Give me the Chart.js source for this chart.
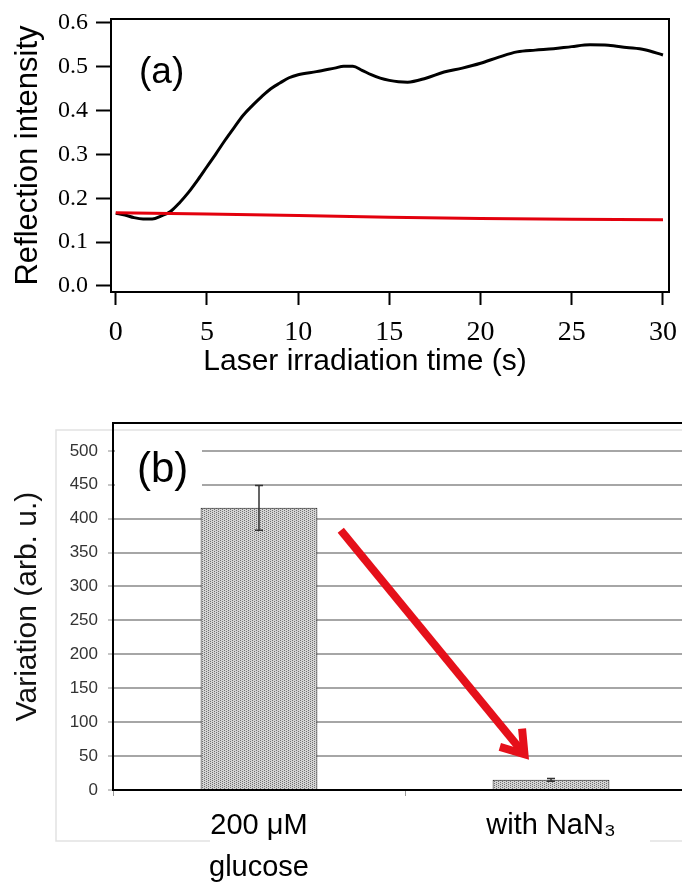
<!DOCTYPE html>
<html>
<head>
<meta charset="utf-8">
<title>Reflection intensity and variation</title>
<script src="https://cdn.jsdelivr.net/npm/chart.js@4/dist/chart.umd.min.js"></script>
<style>
  html, body { margin: 0; padding: 0; background: #fff; overflow: hidden; }
  body { width: 682px; height: 888px; position: relative; }
  #panel-a { position: absolute; left: 0; top: 0; width: 682px; height: 390px; }
  #panel-b { position: absolute; left: 0; top: 400px; width: 700px; height: 488px; }
</style>
</head>
<body>
<div id="panel-a"><canvas id="reflectionChart"></canvas></div>
<div id="panel-b"><canvas id="variationChart"></canvas></div>
<script>
// (a) reflection intensity during laser irradiation
const timeS = [0, 0.5, 1, 1.5, 2, 2.5, 3, 3.5, 4, 4.5, 5, 5.5, 6, 6.5, 7, 7.5, 8, 8.5, 9, 9.5,
  10, 11, 12, 12.5, 13, 13.5, 14, 14.5, 15, 15.5, 16, 17, 18, 19, 20, 21, 22, 23, 24, 25, 26, 27, 28, 29, 30];
const reflGlucose = [0.166, 0.162, 0.156, 0.153, 0.153, 0.160, 0.170, 0.190, 0.214, 0.242, 0.272, 0.302, 0.333, 0.362, 0.390, 0.412, 0.432, 0.450, 0.463, 0.475,
  0.482, 0.489, 0.497, 0.501, 0.501, 0.492, 0.482, 0.474, 0.469, 0.466, 0.465, 0.474, 0.488, 0.497, 0.508, 0.522, 0.534, 0.538, 0.541, 0.546, 0.550, 0.549, 0.544, 0.539, 0.527];
const timeNaN3 = [0, 5, 10, 15, 20, 25, 30];
const reflNaN3 = [0.167, 0.164, 0.161, 0.157, 0.154, 0.152, 0.151];
const timeTicks = [0, 5, 10, 15, 20, 25, 30];
const reflTicks = [0, 0.1, 0.2, 0.3, 0.4, 0.5, 0.6];

// (b) variation with / without NaN3
const categories = [['200 μM', 'glucose'], 'with NaN₃'];
const variation = [416, 15];
const variationErr = [33, 2];
const variationTicks = [0, 50, 100, 150, 200, 250, 300, 350, 400, 450, 500];
const arrowFrom = { x: 0.28, y: 383 };
const arrowTo = { x: 0.92, y: 47 };

const SANS = '"Liberation Sans", Arial, sans-serif';
const SERIF = '"Liberation Serif", "Times New Roman", serif';

// keep the plot box where it is, whatever the edge labels need
function noEdgePad(s) {
  s.paddingLeft = 0; s.paddingRight = 0; s.paddingTop = 0; s.paddingBottom = 0;
}

// --- panel (a) ---
const frameA = {
  id: 'frameA',
  afterDraw(chart) {
    const { ctx, chartArea: a } = chart;
    ctx.save();
    ctx.strokeStyle = '#000';
    ctx.lineWidth = 2;
    ctx.strokeRect(a.left, a.top, a.right - a.left, a.bottom - a.top);
    ctx.fillStyle = '#000';
    ctx.font = '37px ' + SANS;
    ctx.textBaseline = 'middle';
    ctx.fillText('(a)', a.left + 28, a.top + 54);
    ctx.restore();
  }
};

new Chart(document.getElementById('reflectionChart'), {
  type: 'line',
  data: {
    datasets: [
      {
        label: 'with NaN3',
        data: timeNaN3.map((t, i) => ({ x: t, y: reflNaN3[i] })),
        borderColor: '#e3000d',
        borderWidth: 3,
        pointRadius: 0,
        order: 0
      },
      {
        label: '200 μM glucose',
        data: timeS.map((t, i) => ({ x: t, y: reflGlucose[i] })),
        borderColor: '#000',
        borderWidth: 3,
        pointRadius: 0,
        cubicInterpolationMode: 'monotone',
        order: 1
      }
    ]
  },
  options: {
    responsive: true,
    maintainAspectRatio: false,
    animation: false,
    layout: { padding: { top: 19, right: 13, left: 0, bottom: 0 } },
    plugins: { legend: { display: false }, tooltip: { enabled: false } },
    scales: {
      x: {
        type: 'linear',
        min: -0.26,
        max: 30.33,
        afterBuildTicks: s => { s.ticks = timeTicks.map(v => ({ value: v })); },
        afterFit: s => { s.height = 98; noEdgePad(s); },
        grid: { drawOnChartArea: false, tickLength: 13, tickWidth: 2, tickColor: '#000' },
        border: { display: false },
        ticks: { autoSkip: false, maxRotation: 0, padding: 11, color: '#000', font: { family: SERIF, size: 28 } },
        title: { display: true, text: 'Laser irradiation time (s)\u00a0\u00a0\u00a0\u00a0\u00a0\u00a0', color: '#000', font: { family: SANS, size: 30 }, padding: { bottom: 10 } }
      },
      y: {
        min: -0.0137,
        max: 0.609,
        afterBuildTicks: s => { s.ticks = reflTicks.map(v => ({ value: v })); },
        afterFit: s => { s.width = 111; noEdgePad(s); },
        grid: { drawOnChartArea: false, tickLength: 15, tickWidth: 2, tickColor: '#000' },
        border: { display: false },
        ticks: { autoSkip: false, padding: 8, color: '#000', font: { family: SERIF, size: 24 }, callback: v => v.toFixed(1) },
        title: { display: true, text: 'Reflection intensity', color: '#000', font: { family: SANS, size: 31 }, padding: { top: 10 } }
      }
    }
  },
  plugins: [frameA]
});

// --- panel (b) ---
function stipple() {
  const c = document.createElement('canvas');
  c.width = 4; c.height = 2;
  const g = c.getContext('2d');
  g.fillStyle = '#d4d4d4';
  g.fillRect(0, 0, 4, 2);
  g.fillStyle = '#707070';
  g.fillRect(0, 0, 1, 1);
  g.fillRect(2, 1, 1, 1);
  return g.createPattern(c, 'repeat');
}

const decorB = {
  id: 'decorB',
  beforeDraw(chart) {
    const { ctx } = chart;
    // light outer frame of the spreadsheet chart
    ctx.save();
    ctx.strokeStyle = '#e2e2e2';
    ctx.lineWidth = 1.5;
    ctx.beginPath();
    ctx.moveTo(chart.width, 30); ctx.lineTo(56, 30); ctx.lineTo(56, 441); ctx.lineTo(210, 441);
    ctx.moveTo(650, 441); ctx.lineTo(chart.width, 441);
    ctx.stroke();
    ctx.restore();
  },
  afterDatasetsDraw(chart) {
    const { ctx, chartArea: a, scales: { x, y } } = chart;
    ctx.save();
    // top border
    ctx.strokeStyle = '#000';
    ctx.lineWidth = 2;
    ctx.beginPath();
    ctx.moveTo(a.left - 1, a.top); ctx.lineTo(a.right, a.top);
    ctx.stroke();

    // error bars
    ctx.strokeStyle = '#333';
    ctx.lineWidth = 1.5;
    chart.getDatasetMeta(0).data.forEach((bar, i) => {
      const hi = y.getPixelForValue(variation[i] + variationErr[i]);
      const lo = y.getPixelForValue(variation[i] - variationErr[i]);
      ctx.beginPath();
      ctx.moveTo(bar.x, hi); ctx.lineTo(bar.x, lo);
      ctx.moveTo(bar.x - 4, hi); ctx.lineTo(bar.x + 4, hi);
      ctx.moveTo(bar.x - 4, lo); ctx.lineTo(bar.x + 4, lo);
      ctx.stroke();
    });

    // red arrow
    const x0 = x.getPixelForValue(arrowFrom.x), y0 = y.getPixelForValue(arrowFrom.y);
    const x1 = x.getPixelForValue(arrowTo.x), y1 = y.getPixelForValue(arrowTo.y);
    const ang = Math.atan2(y1 - y0, x1 - x0);
    ctx.strokeStyle = '#e5101a';
    ctx.lineWidth = 8;
    ctx.lineCap = 'butt';
    ctx.beginPath();
    ctx.moveTo(x0, y0);
    ctx.lineTo(x1 - 6 * Math.cos(ang), y1 - 6 * Math.sin(ang));
    ctx.stroke();
    const wing = 30, spread = 0.5;
    ctx.lineJoin = 'miter';
    ctx.beginPath();
    ctx.moveTo(x1 - wing * Math.cos(ang - spread), y1 - wing * Math.sin(ang - spread));
    ctx.lineTo(x1 - 5 * Math.cos(ang), y1 - 5 * Math.sin(ang));
    ctx.lineTo(x1 - wing * Math.cos(ang + spread), y1 - wing * Math.sin(ang + spread));
    ctx.stroke();

    // (b) label on a white box
    ctx.fillStyle = '#fff';
    ctx.fillRect(a.left + 2, 40, 87, 65);
    ctx.fillStyle = '#000';
    ctx.font = '42px ' + SANS;
    ctx.textBaseline = 'middle';
    ctx.fillText('(b)', a.left + 24, 70);
    ctx.restore();
  }
};

new Chart(document.getElementById('variationChart'), {
  type: 'bar',
  data: {
    labels: categories,
    datasets: [{
      data: variation,
      backgroundColor: stipple(),
      borderColor: '#1a1a1a',
      borderWidth: 1,
      barPercentage: 0.4,
      categoryPercentage: 1
    }]
  },
  options: {
    responsive: true,
    maintainAspectRatio: false,
    animation: false,
    layout: { padding: { top: 23, right: 3, left: 0, bottom: 0 } },
    plugins: { legend: { display: false }, tooltip: { enabled: false } },
    scales: {
      x: {
        afterFit: s => { s.height = 98; noEdgePad(s); },
        grid: { drawOnChartArea: false, offset: true, tickLength: 6, color: '#999' },
        border: { display: true, color: '#000', width: 2 },
        ticks: { padding: 9, color: '#000', font: { family: SANS, size: 29, lineHeight: 1.45 } }
      },
      y: {
        min: 0,
        max: 541,
        afterBuildTicks: s => { s.ticks = variationTicks.map(v => ({ value: v })); },
        afterFit: s => { s.width = 113; noEdgePad(s); },
        grid: { color: '#a6a6a6', lineWidth: 2, tickLength: 5, tickColor: '#8c8c8c', tickWidth: 1 },
        border: { display: true, color: '#000', width: 2 },
        ticks: { autoSkip: false, padding: 10, color: '#333', font: { family: SANS, size: 17 } },
        title: { display: true, text: 'Variation (arb. u.)', color: '#111', font: { family: SANS, size: 30 }, padding: { top: 10 } }
      }
    }
  },
  plugins: [decorB]
});
</script>
</body>
</html>
